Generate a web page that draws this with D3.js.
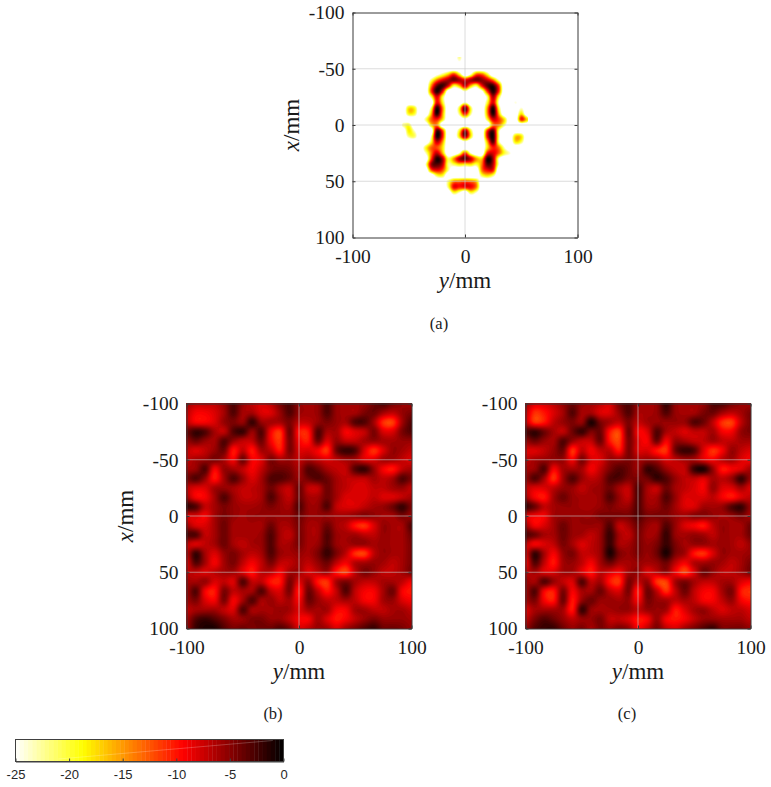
<!DOCTYPE html>
<html>
<head>
<meta charset="utf-8">
<title>Imaging results</title>
<script src="https://cdnjs.cloudflare.com/ajax/libs/d3/7.8.5/d3.min.js"></script>
<style>
html,body{margin:0;padding:0;background:#fff;}
svg{display:block;}
</style>
</head>
<body>
<svg id="fig" width="771" height="787"></svg>
<script>
// Normalised image amplitude in dB. Rows run along x, columns along y.
const _ = -30; // below the display floor
const xTickValues = [-100, -50, 0, 50, 100];
const yTickValues = [-100, 0, 100];
const colorbarTicks = [-25, -20, -15, -10, -5, 0];
const captions = ["(a)", "(b)", "(c)"];

// Panel (a): sampled every 5 mm around the target
const imageAY = d3.range(-55, 60, 5);
const imageAX = d3.range(-60, 70, 5);
const imageA = [
[_,_,_,_,_,_,_,_,_,_,-22,_,_,_,_,_,_,_,_,_,_,_,_],
[_,_,_,_,_,_,_,_,_,_,-26,_,_,_,_,_,_,_,_,_,_,_,_],
[_,_,_,_,_,_,_,_,_,_,_,_,_,_,_,_,_,_,_,_,_,_,_],
[_,_,_,_,_,_,-26,-22,-17,-11,-19,_,-24,-13,-13,-20,_,_,_,_,_,_,_],
[_,_,_,_,_,-22,-14,-9,-6,-4,-6,-9,-6,-4,-5,-8,-14,-24,_,_,_,_,_],
[_,_,_,_,_,-15,-4,-2,-8,-20,-16,-7,-16,-21,-10,-3,-2,-12,_,_,_,_,_],
[_,_,_,_,_,-12,-1,-9,-28,_,_,-24,_,_,-26,-11,-1,-11,_,_,_,_,_],
[_,_,_,_,_,-22,-8,-20,_,_,_,_,_,_,_,-22,-6,-20,_,_,_,_,_],
[_,_,_,_,_,_,-9,-19,_,_,_,-24,_,_,_,-20,-8,-24,_,_,-24,_,_],
[_,-18,-19,_,_,-22,-1,-14,_,_,-20,-3,-20,_,_,-15,-1,-20,_,_,_,-24,_],
[_,-19,-20,_,_,-17,-1,-15,_,_,-22,-10,-22,_,_,-15,-1,-16,_,_,_,-18,_],
[_,_,_,_,-22,-13,-10,-18,_,_,_,-26,_,_,_,-20,-8,-11,-18,_,_,-10,-17],
[-22,-20,_,_,_,-18,-14,_,_,_,_,_,_,_,_,_,-14,-14,-22,_,_,_,_],
[_,-18,-24,_,_,_,-3,-12,_,_,-20,-6,-20,_,_,-11,-3,-22,_,_,_,_,_],
[_,-22,-21,_,_,-24,-1,-10,_,_,-18,-5,-18,_,_,-9,-1,-22,_,_,-17,-18,_],
[_,_,_,_,_,-20,-7,-15,_,_,_,-26,_,_,_,-16,-3,-22,_,_,-18,-21,_],
[_,_,_,_,-20,-13,-12,-18,_,_,_,_,_,_,_,-18,-10,-14,-24,_,_,_,_],
[_,_,_,_,-24,-14,-7,-16,_,_,-24,-12,-24,_,_,-10,-8,-13,-20,-24,_,_,_],
[_,_,_,_,_,-12,-1,-6,-21,-15,-6,-3,-7,-15,-17,-1,-6,-24,_,_,_,_,_],
[_,_,_,_,-24,-6,-3,-7,-22,-21,-18,-19,-18,-21,-14,-3,-7,-24,_,_,_,_,_],
[_,_,_,_,_,-13,-9,-12,-22,_,_,_,_,_,-14,-9,-10,_,_,_,_,_,_],
[_,_,_,_,_,_,-21,-20,_,_,_,_,_,_,-21,-18,-22,_,_,_,_,_,_],
[_,_,_,_,_,_,_,_,-22,-15,-14,-13,-14,-17,_,_,_,_,_,_,_,_,_],
[_,_,_,_,_,_,_,_,-22,-9,-10,-9,-9,-14,_,_,_,_,_,_,_,_,_],
[_,_,_,_,_,_,_,_,_,-20,-24,_,-20,-24,_,_,_,_,_,_,_,_,_],
[_,_,_,_,_,_,_,_,_,_,_,_,_,_,_,_,_,_,_,_,_,_,_]
];

// Panels (b) and (c): sampled on the full aperture
const imageFullAxis = d3.range(25).map(i => -100 + i * 200 / 24);
const imageB = [
[-6,-7,-7,-7,-5.5,-3,-5.5,-7,-8,-7,-4.5,-3,-5.5,-6,-5.5,-3,-5.5,-6,-6,-5.5,-4,-3,-4.5,-5.5,-6],
[-7,-9,-9,-8,-6,-3,-6,-6,-8,-8,-5.5,-3,-5.5,-6,-5.5,-3,-5.5,-6,-6,-4.5,-4,-6,-7,-5.5,-4.5],
[-7,-9,-9,-8,-5.5,-4.5,-5.5,-2,-5.5,-6,-6,-4.5,-7,-7,-5.5,-4.5,-5.5,-6,-3,-3,-6,-11,-11.5,-6,-3],
[-4,-2,-3,-6,-7,-3,-2,-5.5,-3,-9,-11,-4,-10,-10,-3,-6,-6,-9,-8,-7,-4.5,-8,-8,-4.5,-3],
[-5.5,-4,-5.5,-6,-3,-5.5,-7,-7,-4,-9,-11,-4.5,-9,-10,-4,-8,-5.5,-7,-7,-6,-5.5,-6,-6,-5.5,-5.5],
[-7,-8,-7,-5.5,-4,-10,-7,-10,-6,-7,-10,-4.5,-8,-8,-9,-11,-4,-2,-3,-8,-11,-8,-5.5,-6,-7],
[-7,-6,-5.5,-4.5,-6,-9,-4,-9,-8,-4.5,-6,-5.5,-7,-6,-7,-8,-7,-6,-6,-8,-8,-6,-6,-7,-8],
[-6,-5.5,-3,-9,-5.5,-6,-7,-9,-7,-4.5,-4,-4.5,-6,-3,-4,-6,-7,-7,-3,-2,-5.5,-9,-10,-7,-6],
[-4.5,-3,-5.5,-10,-6,-3,-5.5,-8,-6,-3,-3,-4,-5.5,-4,-3,-4,-6,-7,-7,-7,-6,-7,-6,-3,-4.5],
[-7,-8,-8,-6,-5.5,-6,-7,-7,-6,-4,-6,-7,-4,-7,-7,-4,-6,-7,-8,-8,-7,-7,-6,-5.5,-7],
[-6,-9,-9,-6,-3,-5.5,-7,-7,-6,-3,-5.5,-7,-4,-6,-6,-4,-6,-8,-8,-8,-7,-8,-8,-7,-6],
[-2,-3,-7,-6,-4.5,-5.5,-6,-6,-5.5,-4.5,-5.5,-6,-3,-5.5,-5.5,-3,-7,-8,-8,-7,-6,-5.5,-4,-2,-4.5],
[-8,-8,-9,-6,-4.5,-5.5,-6,-5.5,-5.5,-5.5,-5.5,-5.5,-4,-5.5,-5.5,-5.5,-6,-6,-5.5,-5,-5.5,-6,-6,-4.5,-5.5],
[-6,-8,-8,-6,-4,-6,-6,-6,-6,-4,-6,-6,-4.5,-6,-6,-4,-6,-7,-10,-11,-8,-5.5,-6,-6,-3],
[-3,-3,-7,-6,-4,-6,-6,-6,-5.5,-3,-6,-7,-4.5,-6,-6,-3,-5.5,-6,-6,-7,-7,-5.5,-6,-6,-4],
[-7,-8,-7,-6,-4,-6,-7,-6,-5.5,-3,-6,-6,-4.5,-6,-5.5,-3,-5.5,-6,-5.5,-5.5,-6,-5.5,-6,-6,-4.5],
[-7,-2,-6,-8,-5.5,-4.5,-6,-7,-6,-3,-5.5,-6,-5.5,-6,-4.5,-2,-4.5,-7,-11,-11.5,-7,-5.5,-6,-6,-4.5],
[-8,-3,-6,-9,-6,-4.5,-7,-9,-7,-4.5,-7,-7,-6,-7,-5.5,-4,-7,-9,-6.5,-6,-5.5,-6,-7,-6,-4.5],
[-7,-7,-8,-7,-6,-6,-8,-10,-7,-7,-9,-6,-6,-8,-7,-6,-10,-11.5,-7,-4.5,-5.5,-7,-7,-6,-4.5],
[-6,-6,-5.5,-8,-7,-8,-3,-7,-7,-10,-10,-4.5,-8,-5.5,-10,-11,-6,-4.5,-6,-7,-7,-6,-6,-7,-9],
[-6,-3,-9,-10,-4.5,-7,-6,-6,-3,-7,-8,-4.5,-10,-4,-7,-10,-7,-3,-7,-9,-9,-6,-4,-9,-10],
[-6,-4.5,-8,-9,-4.5,-9,-6,-3,-6,-5.5,-7,-6,-9,-4,-5.5,-7,-7,-6,-7,-9,-9,-6,-5.5,-8,-9],
[-7,-6,-6,-6,-7,-8,-3,-6,-6,-6,-5.5,-6,-8,-6,-6,-6,-9,-9,-6,-6,-7,-7,-6,-6,-7],
[-6,-3,-2,-3,-4.5,-6,-5.5,-4.5,-4.5,-5.5,-5.5,-7,-9,-9,-6,-8,-10,-9,-7,-5.5,-4.5,-5.5,-5.5,-5.5,-6],
[-5.5,-2,-1,-1,-3,-4.5,-4,-4.5,-4,-4,-3,-4.5,-8,-7,-5.5,-6,-8,-6,-4.5,-3,-2,-4,-4,-4.5,-5.5]
];
const imageC = [
[-6,-8,-8,-7,-5.5,-4,-5.5,-6,-7,-8,-4.5,-3,-5.5,-6,-5.5,-2,-5.5,-6,-6,-5.5,-3,-3,-4.5,-5.5,-6],
[-7,-11,-10,-8,-6,-3,-6,-6,-8,-8,-5.5,-3,-6,-6,-5.5,-3,-5.5,-6,-6,-4.5,-4,-6,-7,-6,-4.5],
[-7,-11,-10,-7,-5.5,-4.5,-5.5,-1,-4.5,-6,-7,-4.5,-7,-6,-5.5,-5.5,-5.5,-5.5,-3,-4,-7,-11,-11.5,-7,-4.5],
[-3,-2,-4,-6,-7,-4,-2,-4.5,-4,-10,-11.5,-4,-9,-8,-3,-6,-7,-8,-7,-7,-6,-9,-9,-5.5,-4.5],
[-5.5,-4,-5.5,-6,-3,-5.5,-7,-7,-4,-10,-11.5,-4.5,-8,-9,-4,-9,-5.5,-6,-7,-7,-6,-7,-7,-6,-6],
[-8,-8,-7,-5.5,-4,-11,-7,-9,-7,-7,-10,-4.5,-8,-8,-10,-11,-4,-2,-3,-8,-11,-9,-5.5,-7,-8],
[-7,-6,-5.5,-5.5,-5.5,-9,-4.5,-8,-8,-5.5,-5.5,-4.5,-6,-5.5,-6,-8,-7,-6,-6,-8,-9,-7,-6,-8,-9],
[-6,-5.5,-3,-9,-6,-6,-6,-9,-7,-4.5,-3,-4,-5.5,-2,-3,-5.5,-7,-7,-2,-1,-5.5,-10,-9,-8,-6],
[-5.5,-3,-6,-11,-6,-3,-5.5,-7,-6,-3,-3,-4.5,-4.5,-4,-2,-3,-5.5,-7,-7,-8,-6,-7,-5.5,-2,-5.5],
[-7,-8,-8,-7,-5.5,-5.5,-7,-6,-5.5,-4,-6,-7,-3,-6,-7,-4,-6,-7,-8,-9,-5.5,-8,-8,-6,-8],
[-6,-9,-10,-6,-4,-5.5,-6,-6,-5.5,-3,-5.5,-7,-3,-6,-6,-3,-5.5,-8,-8,-8,-7,-9,-10,-8,-7],
[-2,-4,-7,-6,-5.5,-5.5,-6,-6,-5.5,-4.5,-5.5,-5.5,-3,-5.5,-5.5,-4,-6,-8,-8,-6,-6,-5.5,-3,-2,-5.5],
[-8,-9,-9,-6,-5.5,-5.5,-5.5,-5.5,-4.5,-4.5,-4.5,-4.5,-3,-4.5,-4.5,-4.5,-5.5,-6,-5,-5,-5.5,-6,-5.5,-4.5,-6],
[-6,-9,-8,-6,-4,-5.5,-5.5,-5.5,-5.5,-3,-7,-6,-4,-5.5,-6,-3,-5.5,-8,-9,-10,-7,-5.5,-6,-6,-4],
[-3,-4,-6,-6,-4,-5.5,-6,-7,-5.5,-2,-6,-7,-4.5,-6,-5.5,-2,-5.5,-6,-5.5,-6,-7,-5.5,-6,-6,-4],
[-7,-9,-8,-7,-4.5,-6,-8,-7,-5.5,-2,-6,-6,-4.5,-5.5,-4.5,-2,-4.5,-6,-5.5,-5.5,-6,-5.5,-6,-7,-5.5],
[-8,-2,-6,-9,-5.5,-4.5,-7,-7,-5.5,-1,-4.5,-5.5,-4.5,-5.5,-4,-1,-4.5,-6,-10,-11,-8,-5.5,-6,-6,-5.5],
[-9,-3,-7,-10,-6,-5.5,-7,-9,-6,-4,-6,-6,-5.5,-6,-5.5,-4,-7,-9,-6.5,-6,-5.5,-6,-7,-6,-4.5],
[-7,-6,-8,-8,-6,-6,-8,-10,-7,-8,-9,-6,-5.5,-8,-7,-5.5,-9,-11.5,-8,-4,-5.5,-7,-7,-6,-4.5],
[-5.5,-6,-3,-5.5,-7,-8,-3,-7,-6,-10,-11,-4.5,-7,-5.5,-11,-11.5,-6,-4.5,-6,-7,-7,-6,-6,-8,-9],
[-6,-3,-9,-10,-4.5,-9,-6,-6,-4,-7,-8,-4.5,-10,-4,-7,-11,-7,-4,-7,-9,-9,-6,-4.5,-10,-11],
[-6,-4.5,-9,-10,-4,-10,-5.5,-4,-5.5,-5.5,-6,-5.5,-9,-4.5,-5.5,-6,-7,-6,-7,-9,-9,-7,-5.5,-9,-10],
[-8,-6,-6,-6,-6,-10,-2,-5.5,-6,-6,-5.5,-5.5,-7,-5.5,-5.5,-6,-10,-8,-6,-5.5,-7,-8,-7,-7,-8],
[-7,-4.5,-3,-4,-5.5,-7,-5.5,-5.5,-4.5,-7,-7,-8,-10,-9,-5.5,-9,-10,-9,-7,-5.5,-5.5,-6,-6,-6,-7],
[-5.5,-3,-2,-2,-4,-5.5,-4.5,-6,-4.5,-5.5,-4.5,-5.5,-9,-7,-4.5,-7,-8,-6,-4.5,-3,-2,-4.5,-4.5,-4.5,-5.5]
];

const panelSize = 225;
const svg = d3.select("#fig");

// Reversed "hot" map over the -25 to 0 dB display range
const dbColor = d3.scaleLinear()
  .domain([-25, -18.75, -9.375, 0])
  .range(["#ffffff", "#ffff00", "#ff0000", "#000000"])
  .clamp(true);
const levels = d3.range(64).map(i => -25 + i * 25 / 64);

// Catmull-Rom refinement of a sampled image so its contours come out smooth
function refine(grid, f) {
  const rows = grid.length, cols = grid[0].length;
  const at = (r, c) => grid[Math.max(0, Math.min(rows - 1, r))][Math.max(0, Math.min(cols - 1, c))];
  const cr = (a, b, c, d, t) => 0.5 * (2 * b + (c - a) * t + (2 * a - 5 * b + 4 * c - d) * t * t + (3 * b - a - 3 * c + d) * t * t * t);
  const n = (cols - 1) * f + 1, m = (rows - 1) * f + 1;
  const out = new Float64Array(n * m);
  for (let j = 0; j < m; j++) {
    const r = Math.floor(j / f), tr = j / f - r;
    for (let i = 0; i < n; i++) {
      const c = Math.floor(i / f), tc = i / f - c;
      const v = [-1, 0, 1, 2].map(dr => cr(at(r + dr, c - 1), at(r + dr, c), at(r + dr, c + 1), at(r + dr, c + 2), tc));
      out[i + j * n] = cr(v[0], v[1], v[2], v[3], tr);
    }
  }
  return {values: out, n, m};
}

function drawPanel(opts) {
  const {left, top, grid, ys, xs, yLabel, factor} = opts;
  const yScale = d3.scaleLinear().domain([-100, 100]).range([0, panelSize]);
  const xScale = d3.scaleLinear().domain([-100, 100]).range([0, panelSize]);
  const g = svg.append("g").attr("transform", `translate(${left},${top})`);
  const clipId = "clip" + left;
  g.append("clipPath").attr("id", clipId).append("rect")
    .attr("width", panelSize).attr("height", panelSize);

  const field = refine(grid, factor);
  const colPos = d3.scaleLinear().domain([0.5, field.n - 0.5]).range([yScale(ys[0]), yScale(ys[ys.length - 1])]);
  const rowPos = d3.scaleLinear().domain([0.5, field.m - 0.5]).range([xScale(xs[0]), xScale(xs[xs.length - 1])]);
  const project = d3.geoTransform({point(a, b) { this.stream.point(colPos(a), rowPos(b)); }});
  const path = d3.geoPath(project);
  const contours = d3.contours().size([field.n, field.m]).smooth(true).thresholds(levels)(field.values);

  g.append("g").attr("clip-path", `url(#${clipId})`)
    .selectAll("path").data(contours).join("path")
    .attr("d", path)
    .attr("fill", d => dbColor(d.value + 25 / 128))
    .attr("stroke", "none");

  // Translucent grid: three lines across x, one along y
  g.append("g").selectAll("line").data(xTickValues.slice(1, -1)).join("line")
    .attr("x1", 0).attr("x2", panelSize)
    .attr("y1", d => xScale(d)).attr("y2", d => xScale(d))
    .attr("stroke", "#c4c4c4").attr("stroke-opacity", 0.6);
  g.append("g").selectAll("line").data(yTickValues.slice(1, -1)).join("line")
    .attr("y1", 0).attr("y2", panelSize)
    .attr("x1", d => yScale(d)).attr("x2", d => yScale(d))
    .attr("stroke", "#c4c4c4").attr("stroke-opacity", 0.6);

  // Box with inward ticks on all four sides
  const styleAxis = sel => {
    sel.select(".domain").attr("stroke", "#383838");
    sel.selectAll(".tick line").attr("stroke", "#383838");
    sel.selectAll("text").attr("font-family", "'Liberation Serif', serif").attr("font-size", 19.5).attr("fill", "#1a1a1a");
  };
  const fmt = d => String(d);
  g.append("g").attr("transform", `translate(0,${panelSize})`)
    .call(d3.axisBottom(yScale).tickValues(yTickValues).tickFormat(fmt).tickSizeInner(-3).tickSizeOuter(0).tickPadding(12))
    .call(styleAxis);
  g.append("g")
    .call(d3.axisLeft(xScale).tickValues(xTickValues).tickFormat(fmt).tickSizeInner(-3).tickSizeOuter(0).tickPadding(8))
    .call(styleAxis);
  g.append("g")
    .call(d3.axisTop(yScale).tickValues(yTickValues).tickFormat("").tickSizeInner(-3).tickSizeOuter(0))
    .call(styleAxis);
  g.append("g").attr("transform", `translate(${panelSize},0)`)
    .call(d3.axisRight(xScale).tickValues(xTickValues).tickFormat("").tickSizeInner(-3).tickSizeOuter(0))
    .call(styleAxis);

  const labelStyle = t => t.attr("font-family", "'Liberation Serif', serif").attr("font-size", 23).attr("fill", "#1a1a1a").attr("text-anchor", "middle");
  const bottom = g.append("text").attr("x", panelSize / 2).attr("y", panelSize + 50).call(labelStyle);
  bottom.append("tspan").attr("font-style", "italic").text("y");
  bottom.append("tspan").text("/mm");
  if (yLabel) {
    const side = g.append("text").attr("transform", `translate(-54,${panelSize / 2}) rotate(-90)`).call(labelStyle);
    side.append("tspan").attr("font-style", "italic").text("x");
    side.append("tspan").text("/mm");
  }
}

drawPanel({left: 352.5, top: 12.5, grid: imageA, ys: imageAY, xs: imageAX, yLabel: true, factor: 5});
drawPanel({left: 186.5, top: 403.5, grid: imageB, ys: imageFullAxis, xs: imageFullAxis, yLabel: true, factor: 6});
drawPanel({left: 525.5, top: 403.5, grid: imageC, ys: imageFullAxis, xs: imageFullAxis, yLabel: false, factor: 6});

// Sub-figure captions
svg.selectAll("text.caption").data(captions).join("text")
  .attr("class", "caption")
  .attr("x", (d, i) => [439, 273, 627][i])
  .attr("y", (d, i) => [329, 719, 719][i])
  .attr("text-anchor", "middle")
  .attr("font-family", "'Liberation Serif', serif")
  .attr("font-size", 16.5)
  .attr("fill", "#1a1a1a")
  .text(d => d);

// Colour bar
const cbX = d3.scaleLinear().domain([-25, 0]).range([15.5, 283.5]);
const cb = svg.append("g");
cb.selectAll("rect").data(levels).join("rect")
  .attr("x", d => cbX(d))
  .attr("y", 739.5)
  .attr("width", 25 / 64 * 268 / 25 + 0.4)
  .attr("height", 22)
  .attr("fill", d => dbColor(d + 25 / 128));
cb.append("line")
  .attr("x1", cbX(-21)).attr("y1", 759)
  .attr("x2", cbX(-1)).attr("y2", 740.5)
  .attr("stroke", "#fff").attr("stroke-opacity", 0.22);
cb.append("rect").attr("x", 15.5).attr("y", 739.5).attr("width", 268).attr("height", 22)
  .attr("fill", "none").attr("stroke", "#404040");
const cbAxis = cb.append("g").attr("transform", "translate(0,761.5)")
  .call(d3.axisBottom(cbX).tickValues(colorbarTicks).tickFormat(d => String(d)).tickSizeInner(-3).tickSizeOuter(0).tickPadding(8));
cbAxis.select(".domain").attr("stroke", "#404040");
cbAxis.selectAll(".tick line").attr("stroke", "#404040");
cbAxis.selectAll("text").attr("font-family", "'Liberation Sans', sans-serif").attr("font-size", 13).attr("fill", "#262626");
</script>
</body>
</html>
